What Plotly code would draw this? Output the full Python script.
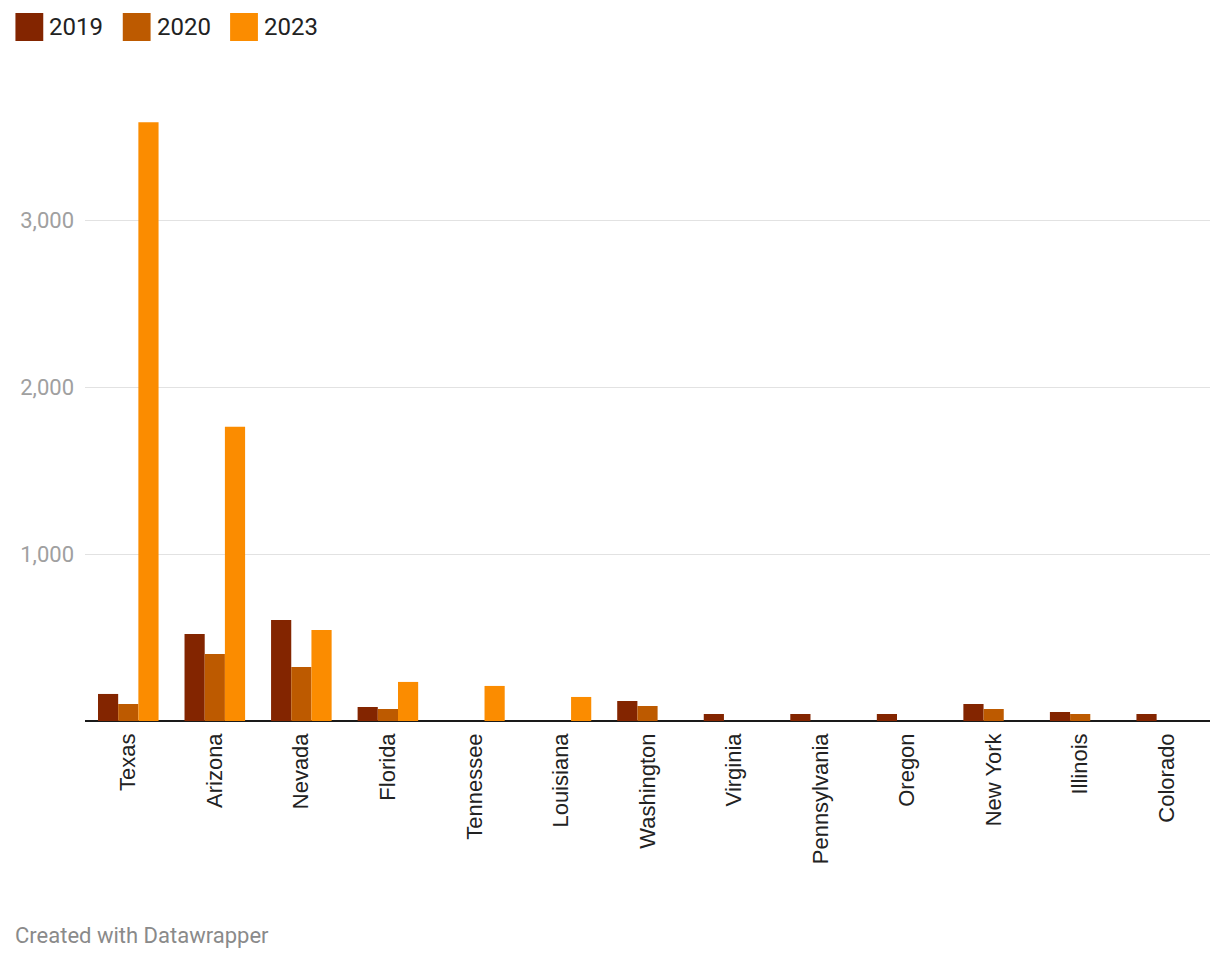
import plotly.graph_objects as go

states = ["Texas", "Arizona", "Nevada", "Florida", "Tennessee", "Louisiana",
          "Washington", "Virginia", "Pennsylvania", "Oregon", "New York",
          "Illinois", "Colorado"]
v2019 = [162, 521, 605, 84, 0, 0, 120, 42, 42, 42, 102, 54, 42]
v2020 = [102, 401, 323, 72, 0, 0, 90, 0, 0, 0, 72, 42, 0]
v2023 = [3587, 1762, 545, 234, 210, 144, 0, 0, 0, 0, 0, 0, 0]
series_names = ["2019", "2020", "2023"]
colors = ["#832500", "#bd5a00", "#fb8c00"]
y_ticks = [0, 1000, 2000, 3000]
y_ticklabels = ["", "1,000", "2,000", "3,000"]

# plot area in figure pixels
PL, PR, PT, PB = 70, 1202, 112, 713
PW, PH = PR - PL, PB - PT


def px(x):
    return (x - PL) / PW


def py(y):
    return (PB - y) / PH


fig = go.Figure()
for name, vals, c in zip(series_names, [v2019, v2020, v2023], colors):
    fig.add_trace(go.Bar(x=states, y=vals, name=name, marker_color=c,
                         marker_line_width=0, showlegend=False))

# custom legend
x0 = 0
for name, c in zip(series_names, colors):
    fig.add_shape(type="rect", xref="paper", yref="paper",
                  x0=px(x0), x1=px(x0 + 28), y0=py(33), y1=py(5),
                  fillcolor=c, line_width=0)
    fig.add_annotation(text=name, xref="paper", yref="paper",
                       x=px(x0 + 32), y=py(19),
                       xanchor="left", yanchor="middle", showarrow=False,
                       font=dict(size=24, color="#222222", family="Roboto"))
    x0 += 108

fig.add_annotation(text="Created with Datawrapper", xref="paper", yref="paper",
                   x=px(-2), y=py(927),
                   xanchor="left", yanchor="middle", showarrow=False,
                   font=dict(size=22, color="#8a8a8a", family="Roboto"))

fig.update_layout(
    width=1220, height=960,
    margin=dict(l=PL, r=1220 - PR, t=PT, b=960 - PB),
    barmode="group", bargap=0.3, bargroupgap=0,
    plot_bgcolor="white", paper_bgcolor="white",
    font=dict(family="Roboto", size=22, color="#333333"),
    xaxis=dict(tickangle=-90, showgrid=False, showline=False, ticks="",
               tickfont=dict(size=22, color="#222222",
                             family="Liberation Sans, Arial, sans-serif"),
               ticklabelstandoff=7),
    yaxis=dict(range=[0, 3600], tickvals=y_ticks, ticktext=y_ticklabels,
               showgrid=True, gridcolor="#e2e2e2", gridwidth=1,
               zeroline=True, zerolinecolor="#1a1a1a", zerolinewidth=2,
               tickfont=dict(size=22, color="#a0a0a0", family="Roboto"),
               ticklabelstandoff=10, showline=False, ticks=""),
)

fig.write_html("out.html")
